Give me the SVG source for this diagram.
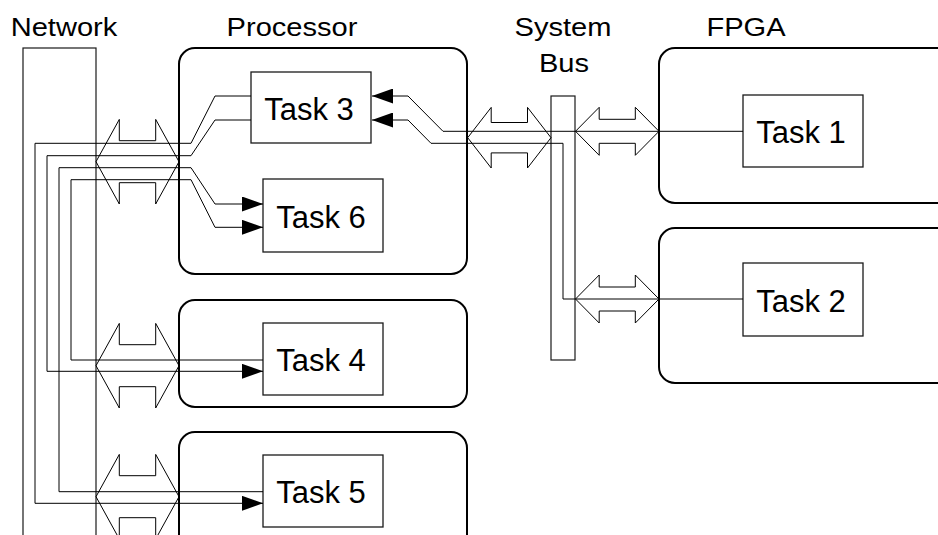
<svg xmlns="http://www.w3.org/2000/svg" width="938" height="535" viewBox="0 0 938 535">
  <style>
    .box { fill: none; stroke: #000; stroke-width: 2; }
    .task { fill: #fff; stroke: #1a1a1a; stroke-width: 1.3; }
    .bar { fill: none; stroke: #1a1a1a; stroke-width: 1.2; }
    .wire { fill: none; stroke: #000; stroke-width: 1; }
    .link { fill: none; stroke: #000; stroke-width: 1; }
    text { font-family: "Liberation Sans", Arial, Helvetica, sans-serif; fill: #000; text-anchor: middle; }
    .name { font-size: 31px; }
    .head { font-size: 25.5px; }
  </style>
  <defs>
    <marker id="arrow" markerUnits="userSpaceOnUse" viewBox="0 0 21 15" refX="21" refY="7.5" markerWidth="21" markerHeight="15" orient="auto">
      <path d="M0,0 L21,7.5 L0,15 Z" fill="#000"/>
    </marker>
  </defs>

  <rect width="938" height="535" fill="#fff"/>

  <!-- column headings -->
  <g id="headings" class="head">
    <text transform="translate(64,36) scale(1.14,1)">Network</text>
    <text transform="translate(292,36) scale(1.14,1)">Processor</text>
    <text transform="translate(563,36) scale(1.14,1)">System</text>
    <text transform="translate(564,72) scale(1.14,1)">Bus</text>
    <text transform="translate(746,36) scale(1.14,1)">FPGA</text>
  </g>

  <!-- network medium -->
  <g id="network">
    <rect class="bar" x="23" y="48" width="73" height="520"/>
  </g>

  <!-- system bus -->
  <g id="system-bus">
    <rect class="bar" x="551" y="96" width="24" height="264"/>
  </g>

  <!-- processor hosting tasks 3 and 6 -->
  <g id="processor-1">
    <rect class="box" x="179" y="48" width="288" height="226" rx="16"/>
    <g id="task3">
      <rect class="task" x="251" y="72" width="120" height="71"/>
      <text class="name" x="309" y="119.5">Task 3</text>
    </g>
    <g id="task6">
      <rect class="task" x="263" y="179" width="120" height="73"/>
      <text class="name" x="321" y="227.5">Task 6</text>
    </g>
  </g>

  <!-- processor hosting task 4 -->
  <g id="processor-2">
    <rect class="box" x="179" y="300" width="288" height="107" rx="16"/>
    <g id="task4">
      <rect class="task" x="263" y="323" width="120" height="72"/>
      <text class="name" x="321" y="371">Task 4</text>
    </g>
  </g>

  <!-- processor hosting task 5 -->
  <g id="processor-3">
    <rect class="box" x="179" y="432" width="288" height="130" rx="16"/>
    <g id="task5">
      <rect class="task" x="263" y="455" width="120" height="72"/>
      <text class="name" x="321" y="503">Task 5</text>
    </g>
  </g>

  <!-- FPGA hosting task 1 -->
  <g id="fpga-1">
    <rect class="box" x="659" y="48" width="300" height="155" rx="16"/>
    <g id="task1">
      <rect class="task" x="743" y="95" width="120" height="72"/>
      <text class="name" x="801" y="143">Task 1</text>
    </g>
  </g>

  <!-- FPGA hosting task 2 -->
  <g id="fpga-2">
    <rect class="box" x="659" y="228" width="300" height="155" rx="16"/>
    <g id="task2">
      <rect class="task" x="743" y="263" width="120" height="73"/>
      <text class="name" x="801" y="311.5">Task 2</text>
    </g>
  </g>

  <!-- connectors: interface arrows and task-to-task wires -->
  <g id="connectors">
    <!-- bidirectional interface arrows -->
    <path class="link" d="M96,161.7 L119.3,119.4 V140.7 H155.7 V119.4 L179,161.7 L155.7,204 V182.7 H119.3 V204 Z"/>
    <path class="link" d="M96,365.7 L119.3,323.4 V344.7 H155.7 V323.4 L179,365.7 L155.7,408 V386.7 H119.3 V408 Z"/>
    <path class="link" d="M96,496.7 L119.3,454.4 V475.7 H155.7 V454.4 L179,496.7 L155.7,539 V517.7 H119.3 V539 Z"/>
    <path class="link" d="M467.7,137.7 L491.2,107.4 V122.5 H527.5 V107.4 L551,137.7 L527.5,168 V152.9 H491.2 V168 Z"/>
    <path class="link" d="M575.5,131.3 L599.2,107.3 V119.3 H635.3 V107.3 L659,131.3 L635.3,155.3 V143.3 H599.2 V155.3 Z"/>
    <path class="link" d="M575.5,299 L599.2,275 V287 H635.3 V275 L659,299 L635.3,323 V311 H599.2 V323 Z"/>

    <!-- network wires -->
    <path class="wire" d="M251,96 H215 L191,143.3 H35 V503.3 H263" marker-end="url(#arrow)"/>
    <path class="wire" d="M251,120 H215 L191,155.7 H47 V371.3 H263" marker-end="url(#arrow)"/>
    <path class="wire" d="M263,491.7 H59 V167.7 H191 L215,204 H263" marker-end="url(#arrow)"/>
    <path class="wire" d="M263,360 H71 V179.7 H191 L215,227.3 H263" marker-end="url(#arrow)"/>

    <!-- system bus wires -->
    <path class="wire" d="M743,131.3 H443 L408,96 H372" marker-end="url(#arrow)"/>
    <path class="wire" d="M743,299 H563 V143.3 H431 L408,120 H372" marker-end="url(#arrow)"/>
  </g>
</svg>
